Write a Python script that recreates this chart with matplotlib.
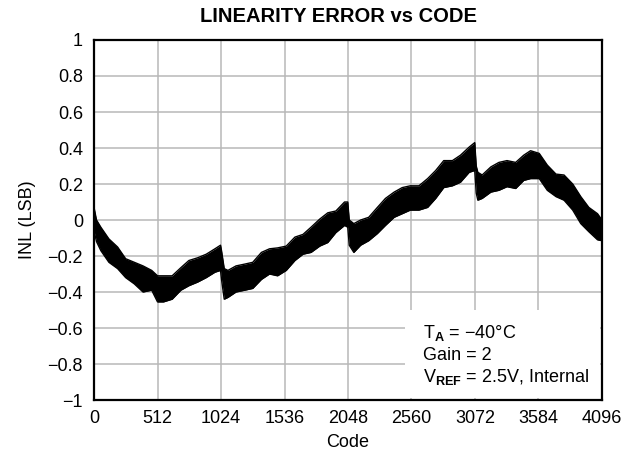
import matplotlib
matplotlib.use("Agg")
import matplotlib.pyplot as plt
from matplotlib.patches import Rectangle

plt.rcParams['font.family'] = ['Liberation Sans', 'DejaVu Sans']
plt.rcParams['mathtext.fontset'] = 'custom'
plt.rcParams['mathtext.rm'] = 'Liberation Sans'
plt.rcParams['mathtext.it'] = 'Liberation Sans:italic'
plt.rcParams['mathtext.bf'] = 'Liberation Sans:bold'

# Envelope of the INL trace (code, upper, lower)
code_pts = [0, 20, 55, 120, 190, 255, 325, 395, 465, 512, 560, 630, 700, 765,
            835, 905, 975, 1020, 1028, 1050, 1080, 1145, 1215, 1280, 1350, 1415,
            1480, 1550, 1620, 1685, 1750, 1820, 1885, 1950, 2020, 2046, 2058, 2095,
            2150, 2215, 2285, 2350, 2420, 2485, 2550, 2620, 2690, 2755, 2820,
            2890, 2955, 3025, 3070, 3082, 3095, 3130, 3200, 3265, 3330, 3400,
            3465, 3520, 3590, 3655, 3725, 3790, 3860, 3925, 3990, 4060, 4096]
inl_upper = [0.07, 0.0, -0.04, -0.105, -0.15, -0.215, -0.235, -0.255, -0.28, -0.31,
             -0.31, -0.31, -0.265, -0.225, -0.21, -0.19, -0.16, -0.14, -0.17, -0.27,
             -0.28, -0.255, -0.245, -0.235, -0.18, -0.16, -0.155, -0.145, -0.095,
             -0.08, -0.04, 0.005, 0.04, 0.05, 0.10, 0.10, 0.0, -0.02, 0.0, 0.015,
             0.07, 0.12, 0.155, 0.18, 0.19, 0.19, 0.23, 0.275, 0.33, 0.33, 0.36,
             0.405, 0.43, 0.30, 0.265, 0.25, 0.295, 0.32, 0.33, 0.32, 0.36, 0.385,
             0.37, 0.305, 0.255, 0.25, 0.20, 0.13, 0.07, 0.035, 0.0]
inl_lower = [-0.06, -0.12, -0.17, -0.235, -0.27, -0.32, -0.355, -0.40, -0.39, -0.455,
             -0.455, -0.44, -0.39, -0.365, -0.345, -0.32, -0.29, -0.28, -0.33, -0.44,
             -0.43, -0.40, -0.39, -0.38, -0.33, -0.30, -0.31, -0.28, -0.225, -0.19,
             -0.18, -0.145, -0.125, -0.07, -0.03, -0.04, -0.14, -0.18, -0.14, -0.115,
             -0.075, -0.03, 0.015, 0.035, 0.055, 0.055, 0.07, 0.12, 0.18, 0.19, 0.21,
             0.265, 0.275, 0.15, 0.11, 0.12, 0.155, 0.165, 0.185, 0.175, 0.22, 0.23,
             0.23, 0.165, 0.13, 0.11, 0.055, -0.02, -0.065, -0.11, -0.115]

x_ticks = [0, 512, 1024, 1536, 2048, 2560, 3072, 3584, 4096]
y_ticks = [-1, -0.8, -0.6, -0.4, -0.2, 0, 0.2, 0.4, 0.6, 0.8, 1]
y_tick_labels = ['\u22121', '\u22120.8', '\u22120.6', '\u22120.4', '\u22120.2', '0',
                 '0.2', '0.4', '0.6', '0.8', '1']

FS = 13

fig = plt.figure(figsize=(6.34, 4.54), dpi=100)
ax = fig.add_axes([0.1483, 0.1189, 0.8012, 0.7930])

ax.fill_between(code_pts, inl_lower, inl_upper, color='black', linewidth=0, zorder=3)
ax.plot(code_pts, inl_upper, color='black', linewidth=1.0, zorder=3)
ax.plot(code_pts, inl_lower, color='black', linewidth=1.0, zorder=3)

ax.set_xlim(0, 4096)
ax.set_ylim(-1, 1)
ax.set_xticks(x_ticks)
ax.set_xticklabels([str(t) for t in x_ticks])
ax.set_yticks(y_ticks)
ax.set_yticklabels(y_tick_labels)
ax.tick_params(axis='y', length=0, labelsize=FS, pad=8)
ax.tick_params(axis='x', length=0, labelsize=FS, pad=7)
ax.set_axisbelow(True)
ax.grid(True, color='#b8b8b8', linewidth=1.1)
for s in ax.spines.values():
    s.set_linewidth(1.6)
    s.set_color('black')
    s.set_zorder(5)

ax.set_xlabel('Code', fontsize=FS, labelpad=5)
ax.set_ylabel('INL (LSB)', fontsize=FS, labelpad=8)

fig.text(338 / 634, 1 - 16 / 454, 'LINEARITY ERROR vs CODE', ha='center', va='center',
         fontsize=14.5, fontweight='bold')

ax.add_patch(Rectangle((0.612, 0.005), 0.384, 0.245, transform=ax.transAxes,
                       facecolor='white', edgecolor='none', zorder=1))
ta_text = 'T$_{\\mathbf{A}}$ = \u221240\u00b0C'
ax.text(0.647, 0.186, ta_text, transform=ax.transAxes, fontsize=FS,
        va='center', ha='left', zorder=4)
ax.text(0.647, 0.125, 'Gain = 2', transform=ax.transAxes, fontsize=FS,
        va='center', ha='left', zorder=4)
ax.text(0.647, 0.064, r'V$_{\mathbf{REF}}$ = 2.5V, Internal', transform=ax.transAxes,
        fontsize=FS, va='center', ha='left', zorder=4)

fig.savefig('out.png', dpi=100)
